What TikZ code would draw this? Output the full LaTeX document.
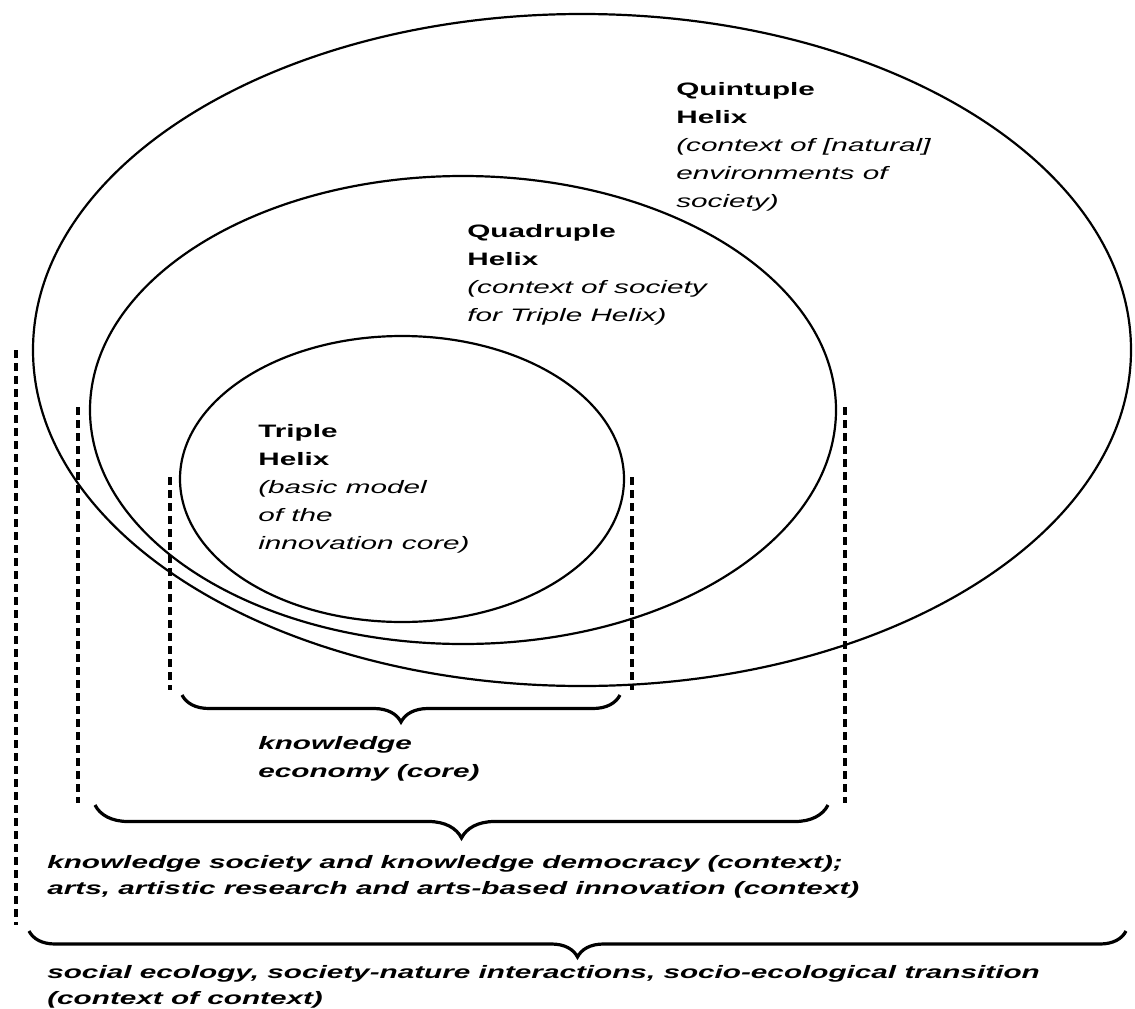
\documentclass[tikz,border=0pt]{standalone}
\usepackage{fontspec}
\setmainfont{Liberation Sans}
\usetikzlibrary{decorations.pathreplacing}

\begin{document}
\begin{tikzpicture}[x=1pt,y=-1pt,
  ring/.style={line width=2.2pt},
  guide/.style={line width=3.4pt, dash pattern=on 8pt off 5pt},
  curly/.style={line width=3.2pt, decorate, decoration={brace,mirror,amplitude=#1}},
  helixtext/.style={anchor=north west, inner sep=0pt, align=left, xscale=1.65,
    font=\fontsize{18}{28}\selectfont}]
\useasboundingbox (0,0) rectangle (1135,1009);

% the three helices
\draw[ring] (582,350) ellipse [x radius=549, y radius=336];
\draw[ring] (463,410) ellipse [x radius=373, y radius=234];
\draw[ring] (402,479) ellipse [x radius=222, y radius=143];

\node[helixtext] (quint) at (676,82) {\textbf{Quintuple}\\\textbf{Helix}\\\textit{(context of [natural]}\\\textit{environments of}\\\textit{society)}};

\node[helixtext] (quad) at (467,224) {\textbf{Quadruple}\\\textbf{Helix}\\\textit{(context of society}\\\textit{for Triple Helix)}};

\node[helixtext] (tri) at (258,424) {\textbf{Triple}\\\textbf{Helix}\\\textit{(basic model}\\\textit{of the}\\\textit{innovation core)}};

% dashed guides
\draw[guide] (16,350) -- (16,925);
\draw[guide] (78,407) -- (78,803);
\draw[guide] (845,407) -- (845,803);
\draw[guide] (170,477) -- (170,690);
\draw[guide] (632,477) -- (632,690);

% braces
\draw[curly=27pt] (182,695) -- (620,695);
\draw[curly=33pt] (95,805) -- (828,805);
\draw[curly=26pt] (29,931) -- (1126,931);

\node[helixtext, font=\fontsize{18}{28}\selectfont\bfseries\itshape] (core) at (258,736) {knowledge\\economy (core)};

\node[helixtext, font=\fontsize{18}{26}\selectfont\bfseries\itshape] (context) at (47,855) {knowledge society and knowledge democracy (context);\\arts, artistic research and arts-based innovation (context)};

\node[helixtext, font=\fontsize{18}{26}\selectfont\bfseries\itshape] (ctxctx) at (47,965) {social ecology, society-nature interactions, socio-ecological transition\\(context of context)};

\end{tikzpicture}
\end{document}
